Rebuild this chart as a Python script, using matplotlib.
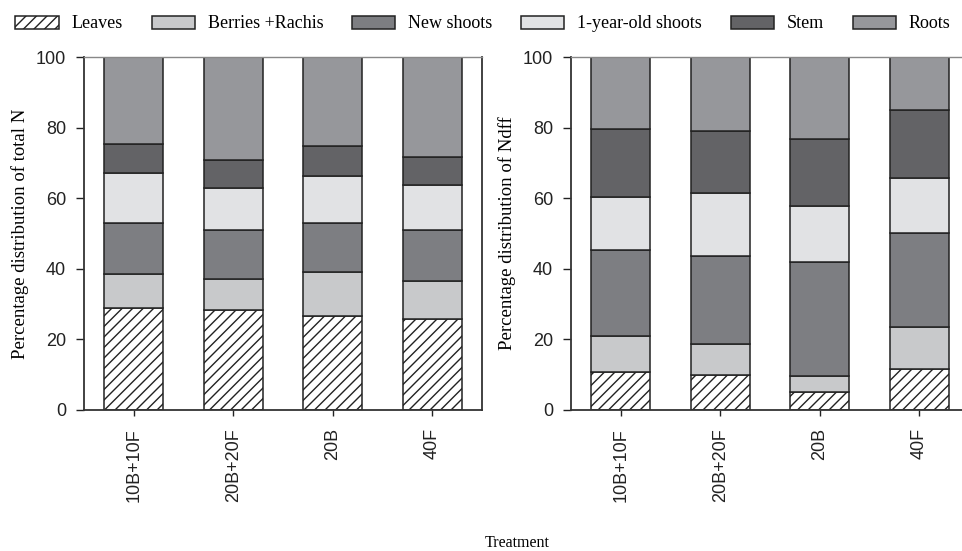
import matplotlib
matplotlib.use("Agg")
import matplotlib.pyplot as plt
import numpy as np
from matplotlib.patches import Patch

treatments = ["10B+10F", "20B+20F", "20B", "40F"]
components = ["Leaves", "Berries +Rachis", "New shoots", "1-year-old shoots", "Stem", "Roots"]

# Percentage distribution of total N (left panel)
total_leaves = [28.8, 28.2, 26.7, 25.8]
total_berries = [9.8, 8.9, 12.5, 10.8]
total_new_shoots = [14.5, 13.9, 13.8, 14.3]
total_1yr_shoots = [13.9, 12.0, 13.3, 12.8]
total_stem = [8.4, 7.8, 8.4, 7.9]
total_roots = [24.6, 29.2, 25.3, 28.4]

# Percentage distribution of Ndff (right panel)
ndff_leaves = [10.7, 9.8, 5.2, 11.6]
ndff_berries = [10.2, 8.8, 4.5, 11.8]
ndff_new_shoots = [24.3, 24.9, 32.3, 26.7]
ndff_1yr_shoots = [15.1, 18.1, 15.7, 15.5]
ndff_stem = [19.2, 17.5, 19.2, 19.3]
ndff_roots = [20.5, 20.9, 23.1, 15.1]

colors = ["white", "#c8c9cb", "#7d7e82", "#e1e2e4", "#636366", "#96979b"]
hatches = ["////", None, None, None, None, None]
edge = "#222222"

W, H = 962, 551
DPI = 126
S = 100 / DPI  # keep sizes as they were designed at 100 dpi
fig = plt.figure(figsize=(W / DPI, H / DPI), dpi=DPI)
plt.rcParams["hatch.linewidth"] = 1.0 * S

serif = ["Liberation Serif", "DejaVu Serif"]
sans = ["Liberation Sans", "DejaVu Sans"]

def px_axes(left, right, top, bottom):
    return fig.add_axes([left / W, 1 - bottom / H, (right - left) / W, (bottom - top) / H])

ax1 = px_axes(84, 482, 57, 410)
ax2 = px_axes(571, 969, 57, 410)

panels = [
    (ax1, [total_leaves, total_berries, total_new_shoots, total_1yr_shoots, total_stem, total_roots],
     "Percentage distribution of total N"),
    (ax2, [ndff_leaves, ndff_berries, ndff_new_shoots, ndff_1yr_shoots, ndff_stem, ndff_roots],
     "Percentage distribution of Ndff"),
]

x = np.arange(len(treatments))
for ax, series, ylabel in panels:
    bottom = np.zeros(len(treatments))
    for vals, c, h in zip(series, colors, hatches):
        vals = np.array(vals)
        ax.bar(x, vals, width=0.59, bottom=bottom, color=c, edgecolor=edge,
               linewidth=1.1 * S, hatch=h, zorder=2)
        bottom += vals
    ax.set_xlim(-0.5, 3.5)
    ax.set_ylim(0, 100)
    ax.set_yticks([0, 20, 40, 60, 80, 100])
    ax.set_xticks(x)
    ax.set_xticklabels(treatments, rotation=90, fontsize=13 * S, family=sans)
    for lab in ax.get_yticklabels():
        lab.set_fontsize(13 * S)
        lab.set_family(sans)
    ax.tick_params(axis="y", direction="out", length=6 * S, width=1 * S, pad=7 * S, colors="#222222")
    ax.tick_params(axis="x", direction="out", length=4 * S, width=1 * S, pad=9 * S, colors="#222222")
    ax.set_ylabel(ylabel, family=serif, fontsize=13.5 * S, labelpad=5 * S)
    for s in ["left", "bottom", "right"]:
        ax.spines[s].set_color("#333333")
        ax.spines[s].set_linewidth(1.3 * S)
    ax.spines["top"].set_color("#888888")
    ax.spines["top"].set_linewidth(1.0 * S)

ax2.spines["right"].set_visible(False)

handles = [Patch(facecolor=c, edgecolor=edge, hatch=h, linewidth=1.1 * S) for c, h in zip(colors, hatches)]
fig.legend(handles, components, ncol=6, loc="center", bbox_to_anchor=(483 / W, 1 - 24 / H),
           frameon=False, prop={"family": serif, "size": 13 * S}, handlelength=2.4,
           handleheight=0.72, handletextpad=0.7, columnspacing=1.6, borderpad=0)

fig.text(517 / W, 1 - 543 / H, "Treatment", ha="center", va="center", family=serif, fontsize=11.5 * S)

fig.savefig("out.png", dpi=DPI)
